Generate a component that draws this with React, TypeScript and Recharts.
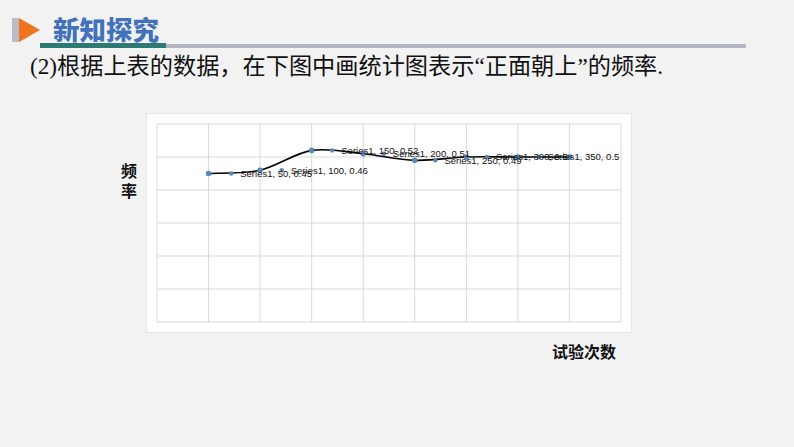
import { CartesianGrid, LabelList, Line, LineChart, XAxis, YAxis } from 'recharts'

// the smoothed series through the gridline points
const mainCounts = [50, 100, 150, 200, 250, 300, 350, 400]
const mainFreqs = [0.45, 0.46, 0.52, 0.51, 0.49, 0.5, 0.5, 0.5]
// the small labelled markers that sit just right of each gridline point
const markerCounts = [72, 121, 170, 220, 270, 320, 370]
const markerFreqs = [0.45, 0.46, 0.52, 0.51, 0.49, 0.5, 0.5]
const markerLabels = [
  'Series1, 50, 0.45',
  'Series1, 100, 0.46',
  'Series1, 150, 0.52',
  'Series1, 200, 0.51',
  'Series1, 250, 0.49',
  'Series1, 300, 0.5',
  'Series1, 350, 0.5',
]
const xTicks = [0, 50, 100, 150, 200, 250, 300, 350, 400, 450]
const yTicks = [0, 0.1, 0.2, 0.3, 0.4, 0.5, 0.6]

const data = [
  ...mainCounts.map((x, i) => ({ x, y: mainFreqs[i] as number | null, m: null as number | null, label: '' })),
  ...markerCounts.map((x, i) => ({ x, y: null as number | null, m: markerFreqs[i] as number | null, label: markerLabels[i] })),
].sort((a, b) => a.x - b.x)

// Excel-like smoothed line (Catmull-Rom through every point)
const smoothCurve = (context: any) => {
  let pts: number[][] = []
  return {
    areaStart() {},
    areaEnd() {},
    lineStart() {
      pts = []
    },
    point(x: number, y: number) {
      pts.push([+x, +y])
    },
    lineEnd() {
      if (!pts.length) return
      context.moveTo(pts[0][0], pts[0][1])
      for (let i = 0; i < pts.length - 1; i++) {
        const p0 = pts[Math.max(0, i - 1)]
        const p1 = pts[i]
        const p2 = pts[i + 1]
        const p3 = pts[Math.min(pts.length - 1, i + 2)]
        context.bezierCurveTo(
          p1[0] + (p2[0] - p0[0]) / 6,
          p1[1] + (p2[1] - p0[1]) / 6,
          p2[0] - (p3[0] - p1[0]) / 6,
          p2[1] - (p3[1] - p1[1]) / 6,
          p2[0],
          p2[1]
        )
      }
    },
  }
}

const makeDot = (r: number) => (props: any) => {
  const { cx, cy, index, value } = props
  if (cx == null || cy == null || value == null) return null
  return <circle key={index} cx={cx} cy={cy} r={r} fill="#5b86b8" stroke="none" />
}

export default function App() {
  return (
    <div
      style={{
        position: 'fixed',
        left: 0,
        top: 0,
        width: 794,
        height: 447,
        background: '#f2f2f2',
        overflow: 'hidden',
      }}
    >
      {/* header */}
      <div style={{ position: 'absolute', left: 12, top: 18, width: 7, height: 24, background: '#b9bcc4' }} />
      <div
        style={{
          position: 'absolute',
          left: 19,
          top: 18,
          width: 0,
          height: 0,
          borderTop: '12px solid transparent',
          borderBottom: '12px solid transparent',
          borderLeft: '21px solid #f0741e',
        }}
      />
      <div
        style={{
          position: 'absolute',
          left: 53,
          top: 13,
          fontFamily: '"Noto Sans CJK SC"',
          fontWeight: 900,
          fontSize: 26.5,
          color: '#4172bb',
          lineHeight: '32px',
        }}
      >
        新知探究
      </div>
      <div style={{ position: 'absolute', left: 40, top: 43, width: 126, height: 5, background: '#2c7a73' }} />
      <div style={{ position: 'absolute', left: 166, top: 44, width: 580, height: 4, background: '#b3b6c2' }} />
      <div
        style={{
          position: 'absolute',
          left: 30,
          top: 51,
          fontFamily: '"Times New Roman", "Liberation Serif", "Noto Sans CJK SC"',
          fontSize: 23.2,
          color: '#111',
          whiteSpace: 'nowrap',
          lineHeight: '30px',
        }}
      >
        (2)根据上表的数据，在下图中画统计图表示“正面朝上”的频率.
      </div>

      {/* axis titles */}
      <div
        style={{
          position: 'absolute',
          left: 121,
          top: 160,
          width: 18,
          fontFamily: '"Noto Sans CJK SC"',
          fontWeight: 700,
          fontSize: 16,
          lineHeight: '20px',
          color: '#111',
        }}
      >
        频<br />率
      </div>
      <div
        style={{
          position: 'absolute',
          left: 552,
          top: 340,
          fontFamily: '"Noto Sans CJK SC"',
          fontWeight: 700,
          fontSize: 16,
          lineHeight: '22px',
          color: '#111',
        }}
      >
        试验次数
      </div>

      {/* chart panel */}
      <div
        style={{
          position: 'absolute',
          left: 147,
          top: 114,
          width: 484,
          height: 218,
          background: '#ffffff',
          boxShadow: '0 0 0 1px #e6e6e6',
        }}
      >
        <LineChart width={484} height={218} data={data} margin={{ top: 10, right: 10, bottom: 10, left: 10 }}>
          <CartesianGrid stroke="#d9d9d9" strokeWidth={1} />
          <XAxis dataKey="x" type="number" domain={[0, 450]} ticks={xTicks} hide />
          <YAxis type="number" domain={[0, 0.6]} ticks={yTicks} hide />
          <Line
            type={smoothCurve as any}
            dataKey="y"
            connectNulls
            stroke="#000000"
            strokeWidth={1.6}
            dot={makeDot(2.8)}
            activeDot={false}
            isAnimationActive={false}
          />
          <Line
            dataKey="m"
            stroke="none"
            dot={makeDot(2.2)}
            activeDot={false}
            isAnimationActive={false}
          >
            <LabelList
              dataKey="label"
              position="right"
              offset={9}
              fontSize={9.5}
              fill="#111"
              style={{ fontFamily: 'Arial, "Liberation Sans", sans-serif' }}
            />
          </Line>
        </LineChart>
      </div>
    </div>
  )
}
